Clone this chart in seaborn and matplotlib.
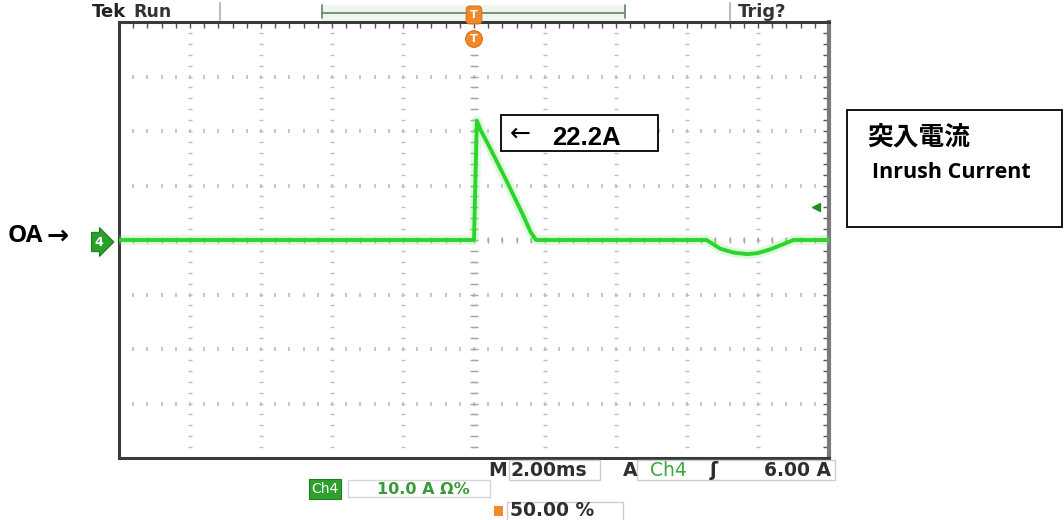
import numpy as np
import pandas as pd
import matplotlib
matplotlib.use("Agg")
import matplotlib.pyplot as plt
import matplotlib.transforms as mtransforms
from matplotlib.patches import Rectangle
from matplotlib.lines import Line2D
import seaborn as sns

# ---------------- data (read from the scope capture) ----------------
time_ms = [-10.0, 0.0, 0.08, 0.2, 0.45, 0.92, 1.38, 1.6, 1.75, 6.55, 6.94, 7.3, 7.7, 8.0, 8.35, 8.7, 9.0, 10.0]
current_a = [0.0, 0.0, 21.9, 20.0, 16.9, 10.8, 4.6, 1.4, 0.0, 0.0, -1.6, -2.3, -2.6, -2.4, -1.7, -0.8, 0.0, 0.0]
time_per_div_ms = 2.0
amps_per_div = 10.0
trigger_level_a = 6.0
peak_text = "22.2A"
zero_text = "OA"
title_cjk = "突入電流"
title_en = "Inrush Current"
status_left = "Run"
status_right = "Trig?"
timebase_text = "2.00ms"
trig_source = "Ch4"
trig_level_text = "6.00 A"
ch_scale_text = "10.0 A \u03a9%"
trig_pos_text = "50.00 %"

df = pd.DataFrame({"t": time_ms, "i": current_a})

sns.set_theme(style="white")
plt.rcParams["font.family"] = ["DejaVu Sans"]

W, H = 1064, 520
fig = plt.figure(figsize=(W / 100, H / 100), dpi=100)
fig.patch.set_facecolor("white")
pix = mtransforms.Affine2D().scale(1 / W, -1 / H).translate(0, 1) + fig.transFigure

L, T, R, B = 119, 22, 829, 458
ax = fig.add_axes([L / W, 1 - B / H, (R - L) / W, (B - T) / H])

xlo, xhi = -5 * time_per_div_ms, 5 * time_per_div_ms
ylo, yhi = -4 * amps_per_div, 4 * amps_per_div
ax.set_xlim(xlo, xhi)
ax.set_ylim(ylo, yhi)

# graticule
xmaj = np.linspace(xlo, xhi, 11)
ymaj = np.linspace(ylo, yhi, 9)
xmin = np.linspace(xlo, xhi, 51)
ymin = np.linspace(ylo, yhi, 41)
gcol = "#bdbdbd"
for xv in xmaj[1:-1]:
    ax.plot(np.full_like(ymin, xv), ymin, ls="none", marker="_", ms=3.5, mew=1.0, color=gcol, zorder=1)
for yv in ymaj[1:-1]:
    ax.plot(xmin, np.full_like(xmin, yv), ls="none", marker="|", ms=2.5, mew=1.2, color=gcol, zorder=1)
# centre cross ticks
ax.plot(np.zeros_like(ymin), ymin, ls="none", marker="_", ms=6, mew=1.0, color="#a5a5a5", zorder=1)
ax.plot(xmin, np.zeros_like(xmin), ls="none", marker="|", ms=5, mew=1.0, color="#a5a5a5", zorder=1)

ax.set_xticks(xmin)
ax.set_yticks(ymin)
ax.tick_params(direction="in", length=4, width=1, color="#555555", top=True, right=True,
               labelbottom=False, labelleft=False)
for s in ax.spines.values():
    s.set_color("#3a3a3a")
    s.set_linewidth(2.2)
ax.spines["right"].set_color("#7a7a7a")
ax.spines["right"].set_linewidth(3)
ax.grid(False)

# trace (with faint phosphor glow)
sns.lineplot(data=df, x="t", y="i", ax=ax, color="#7ee87e", linewidth=7, alpha=0.25, zorder=4)
sns.lineplot(data=df, x="t", y="i", ax=ax, color="#2bd62b", linewidth=2.8, zorder=5)
ax.set_xlabel("")
ax.set_ylabel("")

# trigger level marker
ax.plot([0.982], [trigger_level_a], transform=ax.get_yaxis_transform(), marker="<", ms=6,
        color="#1f8f1f", clip_on=False, zorder=6)

# ---------------- top status bar ----------------
fig.text(92, 12, "Tek", transform=pix, fontsize=13, fontweight="bold", ha="left", va="center", color="#222222")
fig.text(133, 12, status_left, transform=pix, fontsize=12.5, fontweight="bold", ha="left", va="center", color="#333333")
fig.add_artist(Line2D([220, 220], [3, 20], transform=pix, color="#bbbbbb", lw=1.5))
fig.add_artist(Line2D([730, 730], [3, 20], transform=pix, color="#bbbbbb", lw=1.5))
fig.text(738, 12, status_right, transform=pix, fontsize=13, fontweight="bold", ha="left", va="center", color="#333333")
# record window bracket
fig.add_artist(Rectangle((322, 5), 303, 16, transform=pix, facecolor="#eef6ee", edgecolor="none"))
fig.add_artist(Line2D([322, 625], [13, 13], transform=pix, color="#6f8a6f", lw=1.3))
fig.add_artist(Line2D([322, 322], [5, 18], transform=pix, color="#6f8a6f", lw=1.3))
fig.add_artist(Line2D([625, 625], [5, 18], transform=pix, color="#6f8a6f", lw=1.3))
# trigger position markers
orange = "#f0892a"
fig.text(474, 15, "T", transform=pix, fontsize=8, fontweight="bold", color="white", ha="center", va="center",
         bbox=dict(boxstyle="round,pad=0.35", fc=orange, ec="#e07010", lw=0.8))
fig.text(474, 39, "T", transform=pix, fontsize=8, fontweight="bold", color="white", ha="center", va="center",
         bbox=dict(boxstyle="circle,pad=0.3", fc=orange, ec="#e07010", lw=0.8))

# ---------------- left zero marker ----------------
fig.text(8, 236, zero_text, transform=pix, fontsize=17.5, fontweight="bold", ha="left", va="center",
         family=["Open Sans", "DejaVu Sans"], color="black")
fig.text(46, 237, "\u2192", transform=pix, fontsize=19, fontweight="bold", ha="left", va="center",
         family=["DejaVu Sans"], color="black")
fig.text(99, 242, "4", transform=pix, fontsize=9, fontweight="bold", color="white", ha="center", va="center",
         bbox=dict(boxstyle="rarrow,pad=0.25", fc="#2aa02a", ec="#1e7e1e", lw=0.8))

# ---------------- peak annotation ----------------
fig.add_artist(Rectangle((501, 115), 157, 36, transform=pix, facecolor="white", edgecolor="black", lw=1.3, zorder=10))
fig.text(520, 134, "\u2190", transform=pix, fontsize=18, ha="center", va="center", color="black", zorder=11)
fig.text(586, 138, peak_text, transform=pix, fontsize=18.5, fontweight="bold", ha="center", va="center",
         family=["Liberation Sans Narrow", "Liberation Sans", "DejaVu Sans"], color="black", zorder=11)

# ---------------- right title box ----------------
fig.add_artist(Rectangle((847, 110), 215, 117, transform=pix, facecolor="white", edgecolor="black", lw=1.3))
fig.text(867, 137, title_cjk, transform=pix, fontsize=18.5, fontweight="bold", ha="left", va="center",
         family=["Noto Sans CJK JP", "DejaVu Sans"], color="black")
fig.text(872, 172, title_en, transform=pix, fontsize=15.5, fontweight="bold", ha="left", va="center",
         family=["Open Sans", "DejaVu Sans"], color="black")

# ---------------- bottom readouts ----------------
dark = "#2e2e2e"
fs = 13.5
fig.text(488, 470, "M", transform=pix, fontsize=fs, fontweight="bold", ha="left", va="center", color=dark)
fig.add_artist(Rectangle((509, 460), 91, 20, transform=pix, facecolor="none", edgecolor="#cccccc", lw=1))
fig.text(511, 470, timebase_text, transform=pix, fontsize=fs, fontweight="bold", ha="left", va="center", color=dark)
fig.text(623, 470, "A", transform=pix, fontsize=fs, fontweight="bold", ha="left", va="center", color=dark)
fig.add_artist(Rectangle((637, 460), 198, 20, transform=pix, facecolor="none", edgecolor="#cccccc", lw=1))
fig.text(650, 470, trig_source, transform=pix, fontsize=fs, ha="left", va="center", color="#3aa83a")
fig.text(714, 470, "\u0283", transform=pix, fontsize=14, fontweight="bold", ha="center", va="center", color=dark)
fig.text(831, 470, trig_level_text, transform=pix, fontsize=fs, fontweight="bold", ha="right", va="center", color=dark)

fig.add_artist(Rectangle((348, 480), 142, 17, transform=pix, facecolor="none", edgecolor="#d6d6d6", lw=1))
fig.text(325, 489, trig_source, transform=pix, fontsize=10, ha="center", va="center", color="white",
         bbox=dict(boxstyle="square,pad=0.2", fc="#2ea02e", ec="#1e7e1e", lw=0.8))
fig.text(377, 489, ch_scale_text, transform=pix, fontsize=11.5, fontweight="bold", ha="left", va="center", color="#3a9a3a")

fig.add_artist(Rectangle((494, 506), 9, 10, transform=pix, facecolor=orange, edgecolor="none"))
fig.add_artist(Rectangle((507, 502), 116, 20, transform=pix, facecolor="none", edgecolor="#cccccc", lw=1))
fig.text(510, 511, trig_pos_text, transform=pix, fontsize=fs, fontweight="bold", ha="left", va="center", color=dark)

fig.savefig("out.png", dpi=100, facecolor="white")
